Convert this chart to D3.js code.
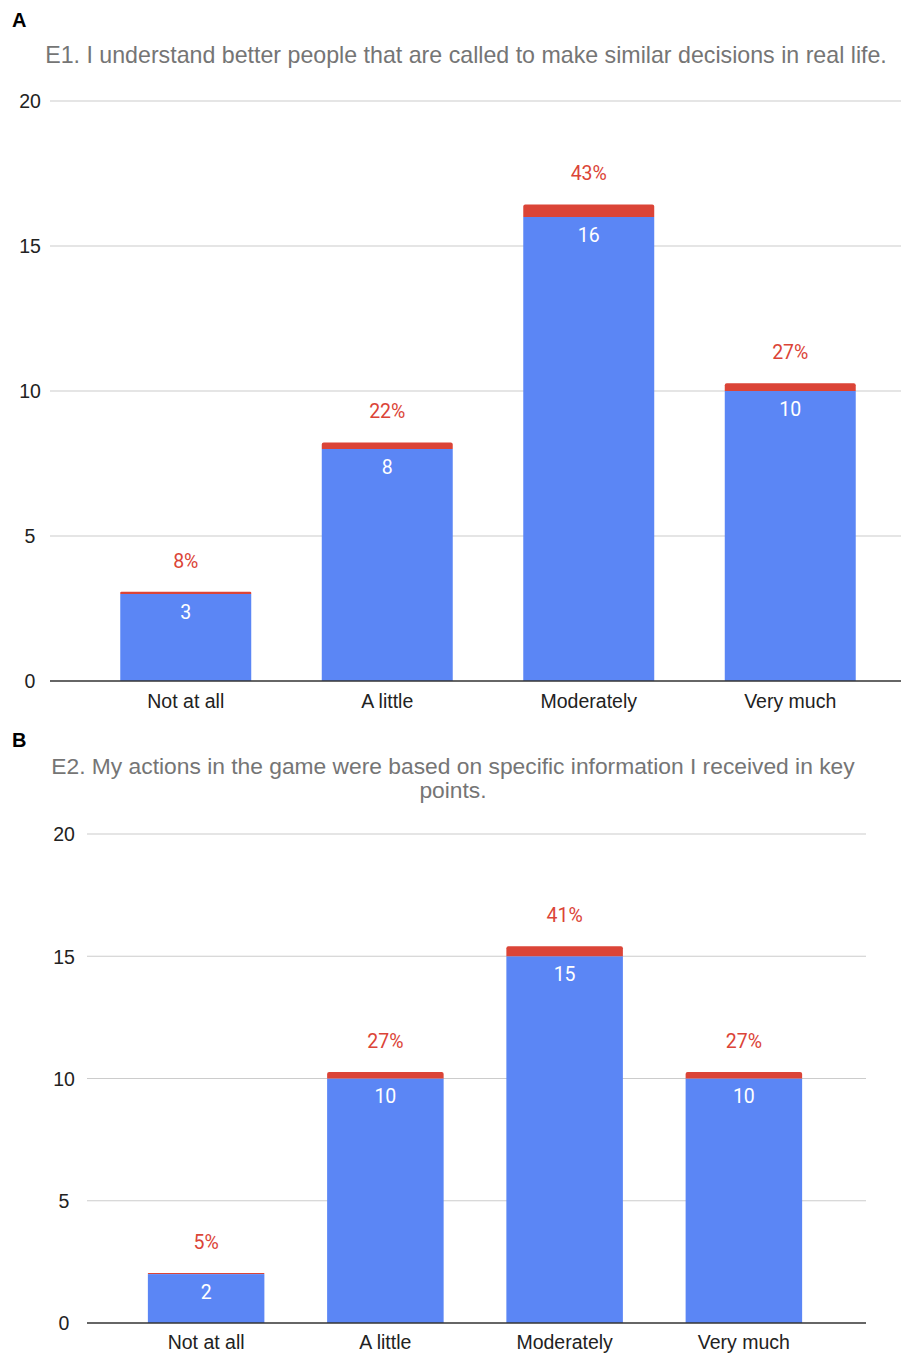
<!DOCTYPE html>
<html>
<head>
<meta charset="utf-8">
<script src="https://cdn.jsdelivr.net/npm/d3@7/dist/d3.min.js"></script>
<style>
  html, body { margin: 0; padding: 0; background: #fff; }
  svg { display: block; }
</style>
</head>
<body>
<svg id="chart" width="901" height="1354"></svg>
<script>
// Response categories shared by both questions
const categories = ["Not at all", "A little", "Moderately", "Very much"];
const yTicks = [0, 5, 10, 15, 20];

// E1 responses: counts and share of respondents (%)
const e1Counts = [3, 8, 16, 10];
const e1Percent = [8, 22, 43, 27];

// E2 responses: counts and share of respondents (%)
const e2Counts = [2, 10, 15, 10];
const e2Percent = [5, 27, 41, 27];

const BLUE = "#5b86f5";
const RED = "#db4437";
const svg = d3.select("#chart");

function panel(cfg) {
  const g = svg.append("g");

  // panel letter
  g.append("text")
    .attr("x", 12).attr("y", cfg.letterY)
    .attr("font-family", "Liberation Sans, Arial, sans-serif")
    .attr("font-weight", "bold").attr("font-size", 20)
    .attr("fill", "#000")
    .text(cfg.letter);

  // title (one or more lines)
  const title = g.append("text")
    .attr("font-family", "Liberation Sans, Arial, sans-serif")
    .attr("font-size", cfg.titleSize)
    .attr("fill", "#757575")
    .attr("text-anchor", "middle");
  cfg.titleLines.forEach((line, i) => {
    title.append("tspan")
      .attr("x", cfg.titleX)
      .attr("y", cfg.titleY + i * 24)
      .text(line);
  });

  const y = d3.scaleLinear().domain([0, 20]).range([cfg.bottom, cfg.top]);
  const x = d3.scaleBand().domain(categories)
    .range(cfg.xRange).paddingInner(0.35).paddingOuter(0.175);

  // gridlines + y tick labels
  const yAxis = d3.axisLeft(y).tickValues(yTicks).tickSize(0).tickPadding(0);
  const ya = g.append("g").attr("transform", `translate(${cfg.labelX},0)`).call(yAxis);
  ya.select(".domain").remove();
  ya.selectAll("text")
    .attr("font-family", "Liberation Sans, Arial, sans-serif")
    .attr("font-size", 19.5).attr("fill", "#222")
    .attr("text-anchor", "middle").attr("dy", "0.35em");

  g.append("g").selectAll("line")
    .data(yTicks.filter(t => t > 0))
    .join("line")
    .attr("x1", cfg.gridX[0]).attr("x2", cfg.gridX[1])
    .attr("y1", d => y(d)).attr("y2", d => y(d))
    .attr("stroke", "#cccccc").attr("stroke-width", 1.2);

  const data = categories.map((c, i) => ({ c, n: cfg.counts[i], p: cfg.percent[i] }));

  // blue count bars
  g.append("g").selectAll("rect")
    .data(data).join("rect")
    .attr("x", d => x(d.c)).attr("width", x.bandwidth())
    .attr("y", d => y(d.n)).attr("height", d => y(0) - y(d.n))
    .attr("fill", BLUE);

  // red share segment stacked on top (share as a fraction of one unit)
  g.append("g").selectAll("path")
    .data(data).join("path")
    .attr("d", d => {
      const x0 = x(d.c), x1 = x0 + x.bandwidth();
      const yb = y(d.n), yt = y(d.n + d.p / 100);
      const r = Math.min(2, (yb - yt) / 2);
      return `M${x0},${yb}V${yt + r}Q${x0},${yt} ${x0 + r},${yt}H${x1 - r}Q${x1},${yt} ${x1},${yt + r}V${yb}Z`;
    })
    .attr("fill", RED);

  // count labels inside bars
  g.append("g").selectAll("text")
    .data(data).join("text")
    .attr("x", d => x(d.c) + x.bandwidth() / 2)
    .attr("y", d => y(d.n) + 18)
    .attr("dy", "0.35em")
    .attr("text-anchor", "middle")
    .attr("font-family", "Roboto, sans-serif").attr("font-size", 19.5)
    .attr("fill", "#ffffff")
    .text(d => d.n);

  // share labels above bars
  g.append("g").selectAll("text")
    .data(data).join("text")
    .attr("x", d => x(d.c) + x.bandwidth() / 2)
    .attr("y", d => y(d.n + d.p / 100) - 31)
    .attr("dy", "0.35em")
    .attr("text-anchor", "middle")
    .attr("font-family", "Roboto, sans-serif").attr("font-size", 19.5)
    .attr("fill", RED)
    .text(d => d.p + "%");

  // baseline
  g.append("line")
    .attr("x1", cfg.gridX[0]).attr("x2", cfg.gridX[1])
    .attr("y1", y(0)).attr("y2", y(0))
    .attr("stroke", "#333").attr("stroke-width", 1.5);

  // category axis
  const xa = g.append("g").attr("transform", `translate(0,${y(0)})`)
    .call(d3.axisBottom(x).tickSize(0).tickPadding(0));
  xa.select(".domain").remove();
  xa.selectAll("text")
    .attr("font-family", "Liberation Sans, Arial, sans-serif")
    .attr("font-size", 19.5).attr("fill", "#222")
    .attr("dy", "0").attr("y", cfg.catOffset);
}

panel({
  letter: "A", letterY: 27,
  titleLines: ["E1. I understand better people that are called to make similar decisions in real life."],
  titleX: 466, titleY: 63, titleSize: 23.2,
  top: 101, bottom: 681,
  xRange: [85, 891], gridX: [50, 901], labelX: 30,
  counts: e1Counts, percent: e1Percent,
  catOffset: 27
});

panel({
  letter: "B", letterY: 747,
  titleLines: ["E2. My actions in the game were based on specific information I received in key", "points."],
  titleX: 453, titleY: 774, titleSize: 22.8,
  top: 834, bottom: 1323,
  xRange: [116.5, 833.5], gridX: [87, 866], labelX: 64,
  counts: e2Counts, percent: e2Percent,
  catOffset: 26
});
</script>
</body>
</html>
